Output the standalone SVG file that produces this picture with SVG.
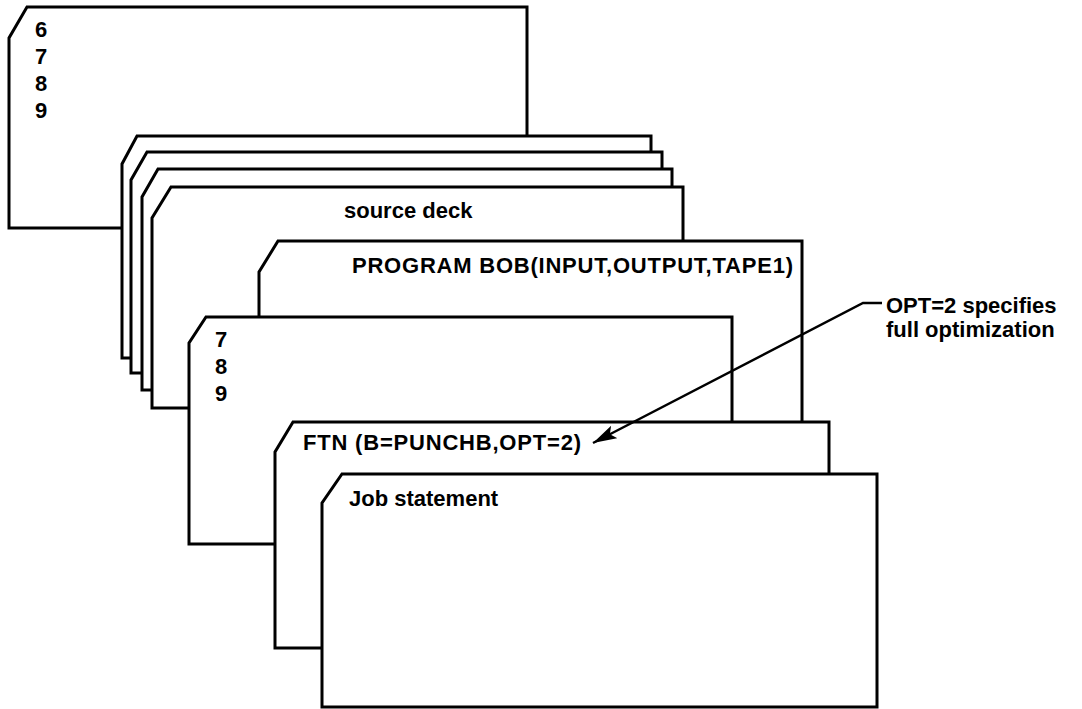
<svg xmlns="http://www.w3.org/2000/svg" width="1082" height="709" viewBox="0 0 1082 709">
<style>
.card{fill:#fff;stroke:#000;stroke-width:3;stroke-linejoin:miter}
.t{font-family:"Liberation Sans",Arial,sans-serif;font-weight:bold;font-size:22px;fill:#000}
.lead{fill:none;stroke:#000;stroke-width:2.5}
</style>
<defs>
<marker id="ah" markerUnits="userSpaceOnUse" markerWidth="26" markerHeight="16" refX="24" refY="7" orient="auto">
<path d="M0,0 L24,7 L0,14 L5,7 Z" fill="#000"/>
</marker>
</defs>
<rect width="1082" height="709" fill="#fff"/>
<g id="card-6789">
<polygon class="card" points="27,7 527,7 527,228 9,228 9,38"/>
<text class="t" x="35" y="37">6</text>
<text class="t" x="35" y="64">7</text>
<text class="t" x="35" y="91">8</text>
<text class="t" x="35" y="118">9</text>
</g>
<g id="deck-card-1"><polygon class="card" points="137,136 651,136 651,358 122,358 122,164"/></g>
<g id="deck-card-2"><polygon class="card" points="147,152 662,152 662,373 131,373 131,180"/></g>
<g id="deck-card-3"><polygon class="card" points="158,169 672,169 672,390 142,390 142,197"/></g>
<g id="deck-card-4">
<polygon class="card" points="171,187 683,187 683,408 152,408 152,218"/>
<text class="t" x="344" y="218">source deck</text>
</g>
<g id="card-program">
<polygon class="card" points="278,241 802,241 802,500 259,500 259,272"/>
<text class="t" x="352" y="273" textLength="441" lengthAdjust="spacing">PROGRAM BOB(INPUT,OUTPUT,TAPE1)</text>
</g>
<g id="card-789">
<polygon class="card" points="206,317 732,317 732,544 189,544 189,343"/>
<text class="t" x="215" y="347">7</text>
<text class="t" x="215" y="374">8</text>
<text class="t" x="215" y="401">9</text>
</g>
<g id="card-ftn">
<polygon class="card" points="293,422 829,422 829,648 275,648 275,452"/>
<text class="t" x="303" y="450" textLength="278" lengthAdjust="spacing">FTN (B=PUNCHB,OPT=2)</text>
</g>
<g id="card-job">
<polygon class="card" points="342,474 877,474 877,707 322,707 322,503"/>
<text class="t" x="349" y="506">Job statement</text>
</g>
<g id="connectors">
<polyline class="lead" points="882,303 863,303 593,443" marker-end="url(#ah)"/>
</g>
<g id="note">
<text class="t" x="886" y="313">OPT=2 specifies</text>
<text class="t" x="886" y="337">full optimization</text>
</g>
</svg>
